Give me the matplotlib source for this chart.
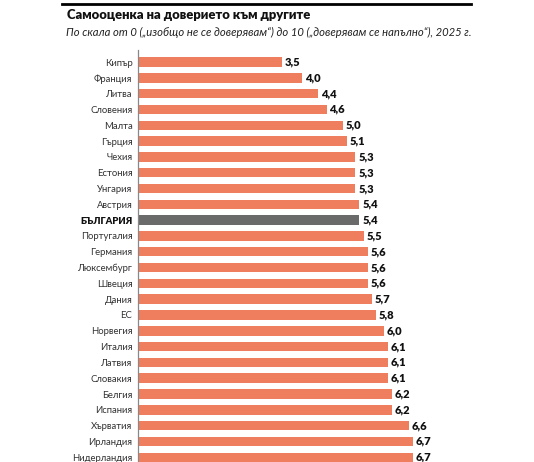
import matplotlib.pyplot as plt
from matplotlib.lines import Line2D

# Данни
countries = ['Кипър', 'Франция', 'Литва', 'Словения', 'Малта', 'Гърция', 'Чехия',
             'Естония', 'Унгария', 'Австрия', 'БЪЛГАРИЯ', 'Португалия', 'Германия',
             'Люксембург', 'Швеция', 'Дания', 'ЕС', 'Норвегия', 'Италия', 'Латвия',
             'Словакия', 'Белгия', 'Испания', 'Хърватия', 'Ирландия', 'Нидерландия']
values = [3.5, 4.0, 4.4, 4.6, 5.0, 5.1, 5.3, 5.3, 5.3, 5.4, 5.4, 5.5, 5.6,
          5.6, 5.6, 5.7, 5.8, 6.0, 6.1, 6.1, 6.1, 6.2, 6.2, 6.6, 6.7, 6.7]
highlight = 'БЪЛГАРИЯ'

title = 'Самооценка на доверието към другите'
subtitle = 'По скала от 0 („изобщо не се доверявам“) до 10 („доверявам се напълно“), 2025 г.'

orange = '#EF7E5F'
grey = '#6A6A6A'

W, H = 534, 462
fig = plt.figure(figsize=(W / 100, H / 100), dpi=100)
plt.rcParams['font.family'] = ['Lato', 'DejaVu Sans']

# оста в пиксели
left, right, top, bottom = 138, 520, 50, 462
ax = fig.add_axes([left / W, 1 - bottom / H, (right - left) / W, (bottom - top) / H])

ypos = list(range(len(countries)))
colors = [grey if c == highlight else orange for c in countries]
ax.barh(ypos, values, height=0.6, color=colors)

for y, v, c in zip(ypos, values, countries):
    ax.text(v + 0.07, y, f'{v:.1f}'.replace('.', ','), va='center', ha='left',
            fontsize=8, fontweight='heavy', color='#111111')

ax.set_yticks(ypos)
ax.set_yticklabels(countries, fontsize=6.8, color='#333333')
for lbl in ax.get_yticklabels():
    if lbl.get_text() == highlight:
        lbl.set_fontweight('heavy')
        lbl.set_color('#111111')
ax.tick_params(axis='y', length=0, pad=4)
ax.set_xticks([])
ax.set_xlim(0, (right - left) / 41)
ax.set_ylim(25.3, -0.76)
for s in ['top', 'right', 'bottom']:
    ax.spines[s].set_visible(False)
ax.spines['left'].set_color('#888888')
ax.spines['left'].set_linewidth(0.9)

# горна черна линия и заглавия
fig.add_artist(Line2D([62 / W, 471 / W], [1 - 3.5 / H, 1 - 3.5 / H], color='black', linewidth=2))
fig.text(67 / W, 1 - 15 / H, title, fontsize=9.4, fontweight='heavy', va='center', ha='left',
         color='#111111')
fig.text(66 / W, 1 - 32 / H, subtitle, fontsize=8.1, style='italic', va='center', ha='left',
         color='#222222')

fig.savefig('out.png', dpi=100)
